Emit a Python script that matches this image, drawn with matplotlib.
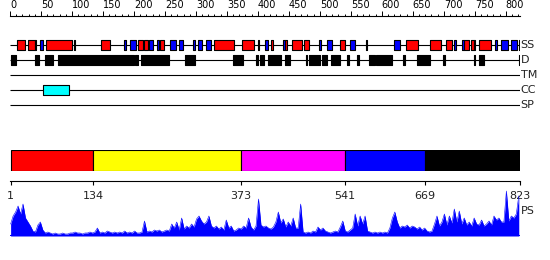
import numpy as np
import matplotlib
matplotlib.use("Agg")
import matplotlib.pyplot as plt
from matplotlib.ticker import MultipleLocator

seq_len = 823

# secondary structure (residue ranges)
helix = [(12, 24), (29, 40), (41, 42), (58, 100), (104, 105), (147, 162), (206, 215),
         (216, 223), (242, 248), (329, 362), (374, 394), (401, 402), (421, 424),
         (444, 447), (455, 471), (474, 482), (532, 540), (639, 659), (677, 695),
         (704, 713), (733, 741), (744, 748), (749, 750), (757, 776)]
strand = [(48, 53), (184, 187), (193, 204), (225, 230), (238, 241), (258, 268),
          (273, 279), (295, 299), (304, 310), (316, 324), (411, 416), (440, 444),
          (499, 502), (512, 520), (549, 557), (574, 576), (620, 630), (717, 720),
          (729, 732), (783, 786), (792, 804), (809, 818), (821, 823)]
disorder = [(1, 9), (40, 46), (56, 70), (77, 200), (202, 207), (212, 257), (283, 299),
            (360, 376), (397, 400), (403, 410), (417, 438), (444, 452), (478, 480),
            (483, 501), (504, 512), (518, 532), (544, 547), (560, 563), (580, 589),
            (591, 617), (634, 638), (657, 678), (699, 702), (749, 751), (757, 765),
            (821, 823)]
transmembrane = []
coiled_coil = [(54, 96)]
signal_peptide = []

track_names = ["SS", "D", "TM", "CC", "SP"]

domain_bounds = [1, 134, 373, 541, 669, 823]
domain_colors = ["#ff0000", "#ffff00", "#ff00ff", "#0000ff", "#000000"]

# PS profile, one value every 4 residues
ps_pos = np.arange(1, seq_len + 1, 4)
ps_score = [12, 20, 24, 30, 22, 32, 18, 14, 10, 5,
            4, 11, 14, 6, 3, 4, 3, 2, 3, 2,
            2, 3, 2, 2, 3, 3, 4, 3, 3, 2,
            3, 3, 4, 3, 4, 8, 3, 4, 3, 5,
            4, 3, 4, 3, 4, 3, 5, 3, 4, 3,
            5, 3, 3, 4, 15, 4, 5, 4, 6, 5,
            6, 4, 5, 6, 5, 12, 8, 14, 6, 18,
            7, 10, 8, 12, 9, 17, 20, 15, 12, 14,
            20, 10, 8, 10, 7, 9, 6, 16, 8, 10,
            5, 6, 8, 7, 10, 8, 18, 9, 6, 10,
            37, 11, 9, 10, 8, 7, 9, 14, 24, 13,
            17, 9, 14, 10, 18, 8, 8, 32, 4, 3,
            4, 3, 5, 4, 9, 6, 8, 5, 4, 3,
            4, 5, 4, 9, 15, 5, 4, 6, 8, 22,
            10, 20, 12, 20, 5, 4, 3, 4, 3, 4,
            3, 4, 3, 8, 18, 24, 14, 8, 10, 9,
            11, 8, 10, 9, 7, 9, 6, 8, 5, 4,
            5, 12, 20, 10, 14, 22, 11, 20, 13, 27,
            14, 25, 12, 18, 11, 14, 10, 18, 12, 11,
            16, 10, 12, 15, 11, 20, 16, 18, 14, 14,
            45, 15, 20, 18, 22, 40]

W, H = 550, 260
fig = plt.figure(figsize=(W / 100, H / 100), dpi=100)


def px_axes(x0, y0, x1, y1):
    return fig.add_axes([x0 / W, 1 - y1 / H, (x1 - x0) / W, (y1 - y0) / H])


def clean(ax):
    for s in ax.spines.values():
        s.set_visible(False)
    ax.set_xticks([])
    ax.set_yticks([])
    ax.patch.set_alpha(0)


# RULER
ax_r = px_axes(10, 16, 520, 22)
clean(ax_r)
ax_r.spines["top"].set_visible(True)
ax_r.spines["top"].set_linewidth(0.8)
ax_r.xaxis.tick_top()
ax_r.xaxis.set_minor_locator(MultipleLocator(10))
ax_r.set_xticks(np.arange(0, 801, 50))
ax_r.set_xlim(0, seq_len)
ax_r.tick_params(axis="x", which="major", direction="out", length=3.5, width=0.7, pad=0.5, labelsize=7)
ax_r.tick_params(axis="x", which="minor", direction="out", length=1.8, width=0.7)
plt.setp(ax_r.get_xticklabels(), ha="left")

# TRACKS
ax_t = px_axes(10, 37.5, 520, 112.5)
clean(ax_t)
ax_t.set_xlim(0, seq_len)
ax_t.set_ylim(len(track_names) - 0.5, -0.5)
ax_t.hlines(range(len(track_names)), 0, seq_len, color="black", lw=0.8, zorder=1)
bh = 0.7


def draw(row, ranges, color):
    if ranges:
        ax_t.broken_barh([(s, e - s) for s, e in ranges], (row - bh / 2, bh),
                         facecolors=color, edgecolors="black", linewidth=0.8, zorder=2)


draw(0, helix, "#ff0000")
draw(0, strand, "#0000ff")
draw(1, disorder, "#000000")
draw(2, transmembrane, "#00ff00")
draw(3, coiled_coil, "#00ffff")
draw(4, signal_peptide, "#ff8800")
for i, name in enumerate(track_names):
    ax_t.annotate(name, (1, i), xycoords=ax_t.get_yaxis_transform(), xytext=(0.5, 0),
                  textcoords="offset points", va="center", ha="left", fontsize=8, color="#222222")

# DOMAIN BAR
ax_d = px_axes(10, 150, 520, 171)
clean(ax_d)
ax_d.set_xlim(0, seq_len)
ax_d.set_ylim(-0.5, 0.5)
for i in range(len(domain_colors)):
    ax_d.barh(0, domain_bounds[i + 1] - domain_bounds[i], left=domain_bounds[i], height=1,
              color=domain_colors[i], edgecolor="black", linewidth=0.8)
ax_d.spines["bottom"].set_visible(True)
ax_d.spines["bottom"].set_position(("outward", 7.2))
ax_d.spines["bottom"].set_linewidth(0.8)
ax_d.set_xticks(domain_bounds)
ax_d.tick_params(axis="x", direction="out", length=3, width=0.8, pad=4.5, labelsize=8, labelcolor="#222222")

# PS PROFILE
ax_p = px_axes(10, 188, 520, 236)
clean(ax_p)
ax_p.set_xlim(0, seq_len)
ax_p.set_ylim(0, 48)
ax_p.fill_between(ps_pos, 0, ps_score, color="#0000ff", lw=0)
ax_p.plot(ps_pos, ps_score, color="#0000ff", lw=0.4)
ax_p.axhline(0, color="#0000ff", lw=1.5)
ax_p.annotate("PS", (1, 0.52), xycoords="axes fraction", xytext=(0.5, 0),
              textcoords="offset points", va="center", ha="left", fontsize=8, color="#222222")

fig.savefig("out.png", dpi=100)
